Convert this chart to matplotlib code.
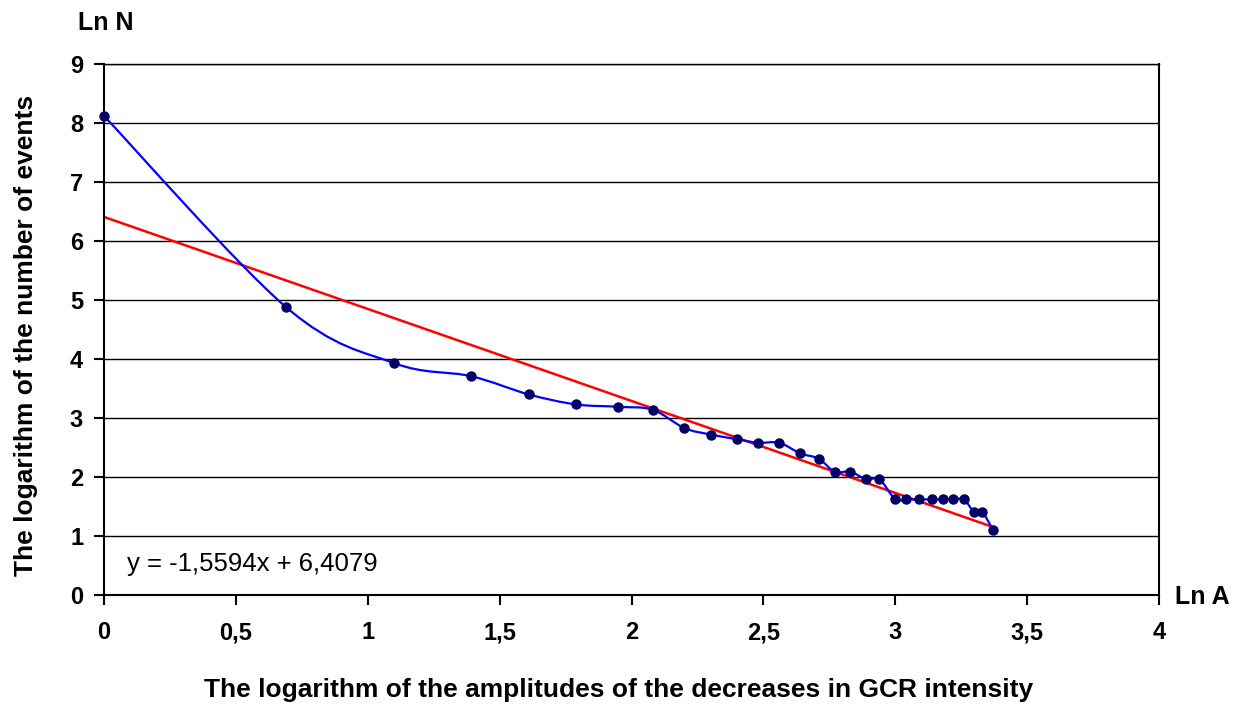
import matplotlib.pyplot as plt
from matplotlib.path import Path
from matplotlib.patches import PathPatch
import numpy as np

plt.rcParams['font.family'] = ['Liberation Sans', 'DejaVu Sans']

# Data (ln A, ln N)
ln_a = [0.00, 0.69, 1.10, 1.39, 1.61, 1.79, 1.95, 2.08, 2.20, 2.30,
        2.40, 2.48, 2.56, 2.64, 2.71, 2.77, 2.83, 2.89, 2.94, 3.00,
        3.04, 3.09, 3.14, 3.18, 3.22, 3.26, 3.30, 3.33, 3.37]
ln_n = [8.12, 4.88, 3.93, 3.71, 3.40, 3.23, 3.19, 3.14, 2.83, 2.72,
        2.64, 2.58, 2.58, 2.40, 2.31, 2.09, 2.09, 1.96, 1.96, 1.62,
        1.62, 1.62, 1.62, 1.62, 1.62, 1.62, 1.40, 1.40, 1.11]

slope = -1.5594
intercept = 6.4079
trend_label = "y = -1,5594x + 6,4079"

x_ticks = [0, 0.5, 1, 1.5, 2, 2.5, 3, 3.5, 4]
x_tick_labels = ["0", "0,5", "1", "1,5", "2", "2,5", "3", "3,5", "4"]
y_ticks = list(range(0, 10))

fig = plt.figure(figsize=(12.44, 7.07), dpi=100)
ax = fig.add_axes([0.0836, 0.1584, 0.8481, 0.7511])

# smoothed line (Excel-style bezier through the points)
pts = np.column_stack([ln_a, ln_n])
n = len(pts)
verts = [pts[0]]
codes = [Path.MOVETO]
for i in range(n - 1):
    p0 = pts[i - 1] if i > 0 else pts[i]
    p1 = pts[i]
    p2 = pts[i + 1]
    p3 = pts[i + 2] if i + 2 < n else pts[i + 1]
    c1 = p1 + (p2 - p0) / 6.0
    c2 = p2 - (p3 - p1) / 6.0
    verts += [c1, c2, p2]
    codes += [Path.CURVE4] * 3
ax.add_patch(PathPatch(Path(verts, codes), facecolor='none',
                       edgecolor='#0000FF', lw=1.6, zorder=3))
ax.plot(ln_a, ln_n, ls='none', marker='o', ms=6.5, color='#000066',
        zorder=4, clip_on=False)

# linear trend
tx = np.array([ln_a[0], ln_a[-1]])
ax.plot(tx, slope * tx + intercept, color='#FF0000', lw=1.8, zorder=2)

ax.set_xlim(0, 4)
ax.set_ylim(0, 9)
ax.set_xticks(x_ticks)
ax.set_xticklabels(x_tick_labels)
ax.set_yticks(y_ticks)
ax.grid(axis='y', color='black', lw=1)
ax.set_axisbelow(True)
for s in ['left', 'bottom', 'right']:
    ax.spines[s].set_linewidth(1.5)
ax.spines['top'].set_linewidth(1)
ax.tick_params(direction='out', length=7, width=1.5, labelsize=17)
ax.tick_params(axis='y', pad=8)
ax.tick_params(axis='x', pad=12)
for lbl in ax.get_xticklabels() + ax.get_yticklabels():
    lbl.set_fontweight('bold')

ax.text(0.088, 0.53, trend_label, fontsize=18.5, va='center')

fig.text(0.0627, 0.968, "Ln N", fontsize=18, fontweight='bold', va='center')
fig.text(0.9445, 0.155, "Ln A", fontsize=18, fontweight='bold', va='center')
fig.text(0.021, 0.525, "The logarithm of the number of events", fontsize=19,
         fontweight='bold', rotation=90, ha='center', va='center')
fig.text(0.497, 0.024, "The logarithm of the amplitudes of the decreases in GCR intensity",
         fontsize=19, fontweight='bold', ha='center', va='center')

fig.savefig('out.png', dpi=100)
